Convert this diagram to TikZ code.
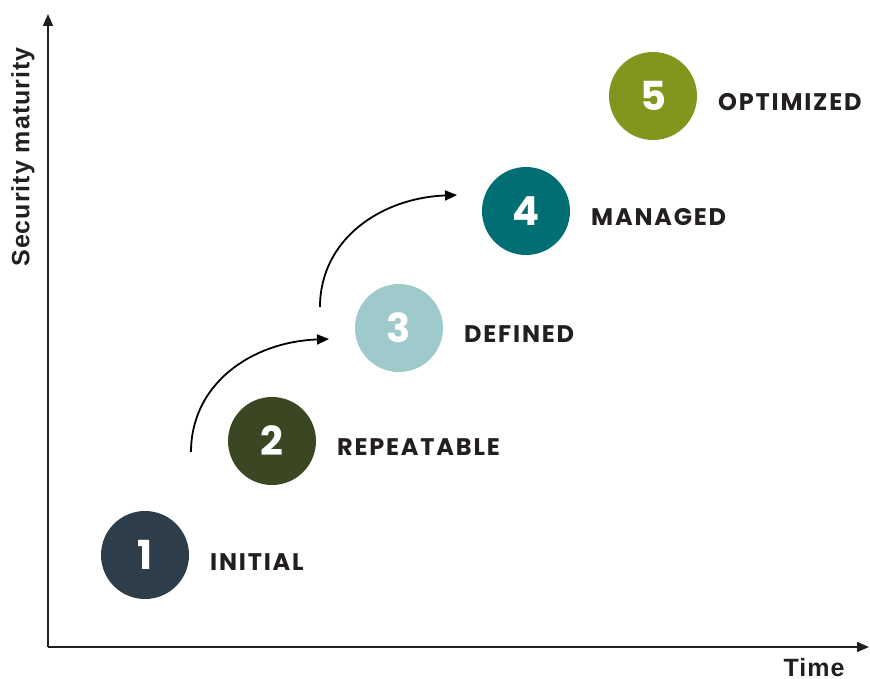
\documentclass[tikz,border=0pt]{standalone}
\usepackage{fontspec}
\setmainfont{Poppins}
\newfontfamily\axisfont{Liberation Sans}[LetterSpace=4]
\usetikzlibrary{arrows.meta}
\definecolor{axisgray}{HTML}{231F20}
\definecolor{cone}{HTML}{2D3E4A}
\definecolor{ctwo}{HTML}{3B4623}
\definecolor{cthree}{HTML}{9FCACC}
\definecolor{cfour}{HTML}{006E73}
\definecolor{cfive}{HTML}{84951E}
\begin{document}
\begin{tikzpicture}[x=1pt,y=-1pt,
  level/.style={circle,minimum size=88pt,inner sep=0pt,text=white,font=\fontsize{40}{40}\selectfont\bfseries},
  lbl/.style={anchor=west,inner sep=0pt,text=axisgray,font=\fontsize{24}{24}\selectfont\bfseries\addfontfeature{LetterSpace=7.5}},
  axlbl/.style={inner sep=0pt,text=axisgray,font=\axisfont\fontsize{25}{25}\selectfont\bfseries},
  axis/.style={axisgray,line width=1.5pt,-{Triangle[length=12pt,width=10pt]}},
  step arrow/.style={black,line width=1.8pt,-{Triangle[length=12pt,width=10pt]}}]
\useasboundingbox (0,0) rectangle (870,679);
\coordinate (O) at (48,647);
\coordinate (ytip) at (48,14);
\coordinate (xtip) at (869,647);
\draw[axis] (O) -- (ytip);
\draw[axis] (O) -- (xtip);
\node[axlbl,rotate=90] (ylab) at (23,157) {Security maturity};
\node[axlbl,anchor=south] (xlab) at (814,677) {Time};
\node[level,fill=cone] (n1) at (145,555) {1};
\node[level,fill=ctwo] (n2) at (272,441) {2};
\node[level,fill=cthree] (n3) at (399,328) {3};
\node[level,fill=cfour] (n4) at (526,211) {4};
\node[level,fill=cfive] (n5) at (653,96) {5};
\node[lbl] (l1) at (210,562) {INITIAL};
\node[lbl] (l2) at (337,447) {REPEATABLE};
\node[lbl] (l3) at (464,334) {DEFINED};
\node[lbl] (l4) at (591,217) {MANAGED};
\node[lbl] (l5) at (718,102) {OPTIMIZED};
\coordinate (a1s) at (191,452);
\coordinate (a1e) at (329,339);
\coordinate (a2s) at (320,307);
\coordinate (a2e) at (457,195);
\draw[step arrow] (a1s) .. controls (191,385) and (250,342) .. (a1e);
\draw[step arrow] (a2s) .. controls (320,240) and (380,198) .. (a2e);
\end{tikzpicture}
\end{document}
